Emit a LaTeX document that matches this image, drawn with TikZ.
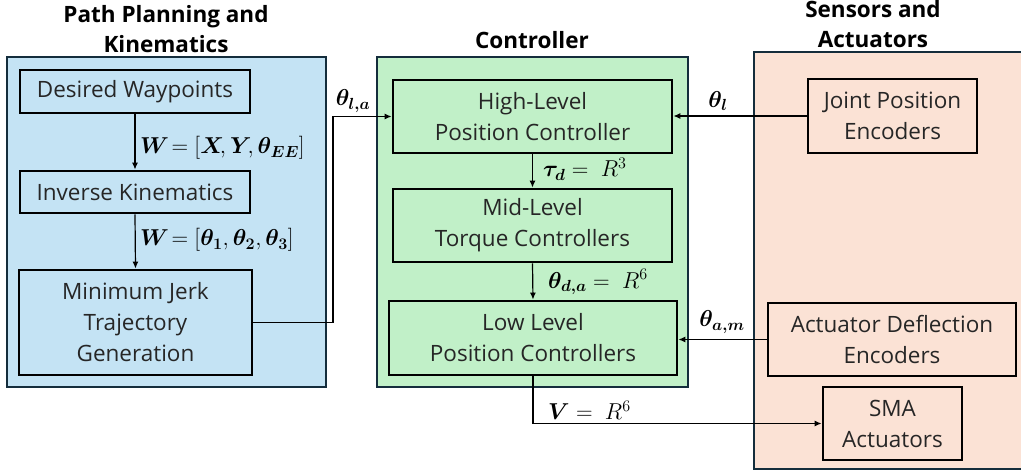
\RequirePackage{fix-cm}
\documentclass[tikz,border=0pt]{standalone}
\usepackage{fontspec}
\usepackage{amsmath,bm}
\setmainfont{Open Sans}
\usetikzlibrary{arrows.meta}
\definecolor{pblue}{RGB}{196,227,244}
\definecolor{pgreen}{RGB}{193,240,200}
\definecolor{psalmon}{RGB}{251,226,213}
\definecolor{pborder}{RGB}{20,45,60}
\begin{document}
\begin{tikzpicture}[x=1pt,y=-1pt,
  panel/.style={draw=pborder,line width=1.3pt},
  blk/.style={draw=black,line width=2.8pt,align=center,inner sep=0pt,
    font=\fontsize{22.5}{31}\selectfont,text=black!85},
  ttl/.style={align=center,font=\fontsize{22.5}{30}\selectfont\bfseries},
  lbl/.style={inner sep=0pt,font=\fontsize{23}{25}\selectfont},
  arr/.style={line width=1.2pt,-{Latex[length=7pt,width=6pt]}}]
\useasboundingbox (0,0) rectangle (1021,471);
\begin{scope}
\clip (0,0) rectangle (1021,471);
% panels
\path[panel,fill=pblue] (7,57) rectangle (326,387);
\path[panel,fill=pgreen] (377,57) rectangle (688,387);
\path[panel,fill=psalmon] (754,52) rectangle (1030,469);
\end{scope}
% titles
\node[ttl] (t1) at (166,29) {Path Planning and\\Kinematics};
\node[ttl] (t2) at (532,40) {Controller};
\node[ttl] (t3) at (873,24) {Sensors and\\Actuators};
% left blocks
\node[blk,minimum width=230,minimum height=43] (dw) at (135,91.5) {Desired Waypoints};
\node[blk,minimum width=230,minimum height=42] (ik) at (135,192) {Inverse Kinematics};
\node[blk,minimum width=233,minimum height=105] (mjt) at (135.5,322.5) {Minimum Jerk\\Trajectory\\Generation};
% controller blocks
\node[blk,minimum width=279,minimum height=73] (hl) at (532.5,116.5) {High-Level\\Position Controller};
\node[blk,minimum width=279,minimum height=73] (ml) at (532.5,225.5) {Mid-Level\\Torque Controllers};
\node[blk,minimum width=288,minimum height=74] (ll) at (533,338) {Low Level\\Position Controllers};
% sensor blocks
\node[blk,minimum width=169,minimum height=74] (jpe) at (892.5,116) {Joint Position\\Encoders};
\node[blk,minimum width=248,minimum height=73] (ade) at (892,339.5) {Actuator Deflection\\Encoders};
\node[blk,minimum width=139,minimum height=73] (sma) at (892.5,423.5) {SMA\\Actuators};
% connectors
\draw[arr] (dw.south) -- (ik.north);
\draw[arr] (ik.south) -- (mjt.north);
\draw[arr] (mjt.east) -- (333,322.5) |- (hl.west);
\draw[arr] (hl.south) -- (ml.north);
\draw[arr] (ml.south) -- (ll.north);
\draw[arr] (jpe.west) -- (jpe.west -| hl.east);
\draw[arr] (ade.west) -- (ade.west -| ll.east);
\draw[arr] (ll.south) |- (sma.west);
% labels
\node[lbl] (l1) at (353,101) {$\bm{\theta_{l,a}}$};
\node[lbl,anchor=west] (l2) at (140,148) {$\bm{W}\! = [\bm{X}\!,\bm{Y}\!,\bm{\theta_{EE}}]$};
\node[lbl,anchor=west] (l3) at (140,240) {$\bm{W}\! = [\bm{\theta_1},\bm{\theta_2},\bm{\theta_3}]$};
\node[lbl,anchor=west] (l4) at (543,169) {$\bm{\tau_d} =\ R^3$};
\node[lbl,anchor=west] (l5) at (548,282) {$\bm{\theta_{d,a}} =\ R^6$};
\node[lbl,anchor=west] (l6) at (548,410) {$\bm{V} =\ R^6$};
\node[lbl] (l7) at (718,101) {$\bm{\theta_l}$};
\node[lbl] (l8) at (722,322) {$\bm{\theta_{a,m}}$};
\end{tikzpicture}
\end{document}
